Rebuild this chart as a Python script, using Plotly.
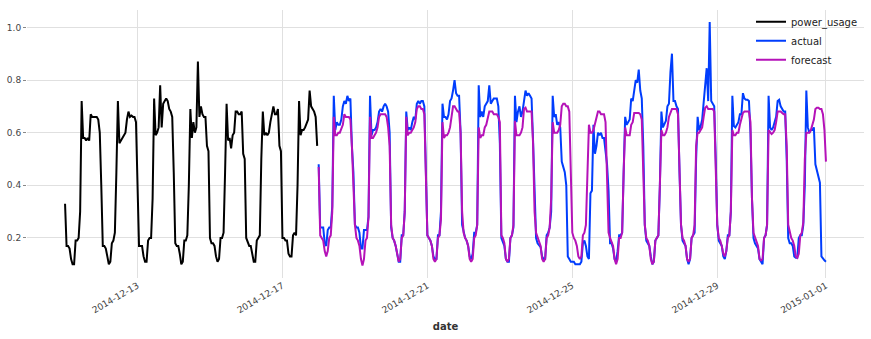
import pandas as pd
import plotly.graph_objects as go

# ---------------- data (hourly) ----------------
POWER_START = "2014-12-11 00:00"
FORECAST_START = "2014-12-18 00:00"

POWER_USAGE = [
    # Dec 11
    0.33, 0.17, 0.17, 0.16, 0.12, 0.10, 0.10, 0.19, 0.19, 0.20, 0.30, 0.72,
    0.58, 0.58, 0.57, 0.58, 0.57, 0.67, 0.66, 0.66, 0.66, 0.66, 0.65, 0.60,
    # Dec 12
    0.40, 0.17, 0.17, 0.16, 0.13, 0.10, 0.11, 0.18, 0.19, 0.22, 0.45, 0.72,
    0.56, 0.57, 0.58, 0.59, 0.60, 0.65, 0.68, 0.66, 0.665, 0.66, 0.66, 0.64,
    # Dec 13
    0.40, 0.17, 0.17, 0.17, 0.13, 0.11, 0.11, 0.19, 0.20, 0.20, 0.35, 0.73,
    0.59, 0.60, 0.62, 0.78, 0.62, 0.71, 0.72, 0.73, 0.72, 0.69, 0.68, 0.66,
    # Dec 14
    0.45, 0.18, 0.17, 0.17, 0.14, 0.10, 0.11, 0.19, 0.19, 0.21, 0.40, 0.69,
    0.58, 0.64, 0.60, 0.62, 0.87, 0.66, 0.70, 0.67, 0.66, 0.66, 0.55, 0.53,
    # Dec 15
    0.20, 0.18, 0.18, 0.17, 0.13, 0.11, 0.12, 0.20, 0.20, 0.22, 0.45, 0.71,
    0.57, 0.58, 0.54, 0.59, 0.60, 0.68, 0.68, 0.67, 0.67, 0.68, 0.52, 0.50,
    # Dec 16
    0.20, 0.18, 0.17, 0.17, 0.14, 0.11, 0.11, 0.19, 0.20, 0.21, 0.50, 0.68,
    0.59, 0.60, 0.59, 0.60, 0.64, 0.68, 0.70, 0.67, 0.67, 0.69, 0.55, 0.53,
    # Dec 17
    0.20, 0.20, 0.19, 0.19, 0.14, 0.13, 0.13, 0.21, 0.22, 0.21, 0.40, 0.72,
    0.59, 0.61, 0.61, 0.62, 0.64, 0.65, 0.76, 0.70, 0.69, 0.68, 0.66, 0.55,
]

ACTUAL = [
    # Dec 18
    0.48, 0.24, 0.24, 0.24, 0.18, 0.17, 0.23, 0.24, 0.24, 0.32, 0.74, 0.61,
    0.64, 0.63, 0.63, 0.65, 0.70, 0.72, 0.71, 0.74, 0.72, 0.73, 0.55, 0.45,
    # Dec 19
    0.25, 0.24, 0.24, 0.22, 0.16, 0.16, 0.23, 0.23, 0.23, 0.28, 0.74, 0.59,
    0.61, 0.61, 0.62, 0.64, 0.68, 0.69, 0.68, 0.70, 0.71, 0.70, 0.68, 0.60,
    # Dec 20
    0.24, 0.20, 0.19, 0.17, 0.13, 0.11, 0.11, 0.21, 0.21, 0.30, 0.68, 0.61,
    0.62, 0.61, 0.64, 0.66, 0.65, 0.71, 0.72, 0.71, 0.72, 0.72, 0.70, 0.45,
    # Dec 21
    0.21, 0.20, 0.19, 0.17, 0.13, 0.12, 0.12, 0.21, 0.21, 0.30, 0.71, 0.66,
    0.66, 0.65, 0.67, 0.72, 0.73, 0.76, 0.80, 0.75, 0.74, 0.74, 0.60, 0.25,
    # Dec 22
    0.22, 0.20, 0.19, 0.17, 0.13, 0.12, 0.14, 0.22, 0.22, 0.25, 0.78, 0.66,
    0.68, 0.66, 0.70, 0.71, 0.72, 0.78, 0.71, 0.72, 0.73, 0.73, 0.73, 0.70,
    # Dec 23
    0.56, 0.20, 0.18, 0.17, 0.12, 0.11, 0.11, 0.20, 0.21, 0.24, 0.74, 0.64,
    0.68, 0.70, 0.66, 0.68, 0.72, 0.76, 0.74, 0.75, 0.74, 0.73, 0.57, 0.40,
    # Dec 24
    0.20, 0.18, 0.17, 0.165, 0.13, 0.12, 0.12, 0.21, 0.22, 0.24, 0.30, 0.74,
    0.66, 0.67, 0.63, 0.64, 0.62, 0.49, 0.47, 0.45, 0.40, 0.13, 0.12, 0.11,
    # Dec 25
    0.11, 0.11, 0.10, 0.10, 0.10, 0.10, 0.11, 0.18, 0.19, 0.17, 0.13, 0.12,
    0.37, 0.38, 0.63, 0.52, 0.55, 0.60, 0.59, 0.60, 0.58, 0.58, 0.53, 0.48,
    # Dec 26
    0.38, 0.18, 0.18, 0.16, 0.12, 0.11, 0.15, 0.21, 0.21, 0.22, 0.45, 0.66,
    0.63, 0.64, 0.65, 0.73, 0.72, 0.76, 0.80, 0.79, 0.84, 0.76, 0.73, 0.55,
    # Dec 27
    0.25, 0.19, 0.18, 0.17, 0.13, 0.10, 0.11, 0.19, 0.20, 0.21, 0.40, 0.68,
    0.62, 0.63, 0.645, 0.70, 0.71, 0.83, 0.90, 0.72, 0.72, 0.70, 0.69, 0.45,
    # Dec 28
    0.25, 0.19, 0.18, 0.17, 0.12, 0.10, 0.12, 0.20, 0.21, 0.22, 0.50, 0.66,
    0.61, 0.625, 0.65, 0.72, 0.77, 0.845, 0.72, 1.02, 0.72, 0.71, 0.70, 0.50,
    # Dec 29
    0.25, 0.19, 0.18, 0.17, 0.13, 0.12, 0.15, 0.21, 0.21, 0.30, 0.74, 0.625,
    0.62, 0.63, 0.64, 0.67, 0.67, 0.75, 0.73, 0.725, 0.725, 0.72, 0.60, 0.35,
    # Dec 30
    0.20, 0.18, 0.17, 0.16, 0.12, 0.11, 0.10, 0.20, 0.21, 0.25, 0.74, 0.62,
    0.61, 0.62, 0.64, 0.66, 0.72, 0.725, 0.70, 0.69, 0.68, 0.68, 0.50, 0.20,
    # Dec 31
    0.18, 0.18, 0.17, 0.13, 0.125, 0.125, 0.20, 0.21, 0.21, 0.25, 0.40, 0.76,
    0.62, 0.60, 0.61, 0.61, 0.62, 0.48, 0.46, 0.44, 0.41, 0.13, 0.12, 0.115,
    # Jan 1 00:00
    0.11,
]

FORECAST = [
    # Dec 18
    0.47, 0.21, 0.20, 0.19, 0.15, 0.13, 0.15, 0.20, 0.21, 0.30, 0.66, 0.59,
    0.59, 0.60, 0.60, 0.62, 0.63, 0.67, 0.66, 0.66, 0.66, 0.65, 0.55, 0.40,
    # Dec 19
    0.25, 0.20, 0.19, 0.17, 0.12, 0.095, 0.12, 0.19, 0.20, 0.28, 0.66, 0.58,
    0.58, 0.59, 0.60, 0.62, 0.66, 0.67, 0.67, 0.67, 0.67, 0.66, 0.62, 0.55,
    # Dec 20
    0.25, 0.20, 0.19, 0.17, 0.13, 0.11, 0.12, 0.20, 0.21, 0.30, 0.66, 0.59,
    0.60, 0.60, 0.61, 0.62, 0.64, 0.69, 0.70, 0.70, 0.69, 0.69, 0.67, 0.40,
    # Dec 21
    0.21, 0.20, 0.19, 0.17, 0.12, 0.11, 0.12, 0.20, 0.21, 0.27, 0.64, 0.58,
    0.59, 0.59, 0.60, 0.62, 0.66, 0.70, 0.70, 0.69, 0.68, 0.68, 0.60, 0.30,
    # Dec 22
    0.22, 0.20, 0.19, 0.17, 0.12, 0.11, 0.12, 0.20, 0.21, 0.25, 0.62, 0.58,
    0.59, 0.59, 0.62, 0.63, 0.66, 0.68, 0.68, 0.68, 0.67, 0.67, 0.67, 0.66,
    # Dec 23
    0.64, 0.21, 0.20, 0.18, 0.12, 0.11, 0.12, 0.20, 0.21, 0.25, 0.645, 0.59,
    0.59, 0.59, 0.60, 0.62, 0.69, 0.695, 0.68, 0.68, 0.68, 0.68, 0.56, 0.30,
    # Dec 24
    0.22, 0.20, 0.19, 0.17, 0.12, 0.11, 0.12, 0.20, 0.21, 0.24, 0.35, 0.64,
    0.60, 0.60, 0.60, 0.61, 0.63, 0.70, 0.71, 0.71, 0.70, 0.70, 0.68, 0.45,
    # Dec 25
    0.22, 0.20, 0.19, 0.17, 0.13, 0.12, 0.13, 0.21, 0.22, 0.25, 0.50, 0.63,
    0.60, 0.60, 0.61, 0.63, 0.66, 0.68, 0.68, 0.67, 0.67, 0.67, 0.64, 0.45,
    # Dec 26
    0.22, 0.20, 0.18, 0.17, 0.12, 0.10, 0.12, 0.20, 0.20, 0.22, 0.45, 0.62,
    0.59, 0.59, 0.59, 0.63, 0.64, 0.675, 0.675, 0.675, 0.675, 0.67, 0.65, 0.45,
    # Dec 27
    0.25, 0.20, 0.19, 0.17, 0.12, 0.10, 0.11, 0.19, 0.20, 0.21, 0.40, 0.61,
    0.59, 0.59, 0.60, 0.62, 0.66, 0.68, 0.69, 0.69, 0.69, 0.69, 0.67, 0.45,
    # Dec 28
    0.25, 0.20, 0.19, 0.17, 0.12, 0.11, 0.12, 0.20, 0.21, 0.25, 0.55, 0.60,
    0.60, 0.61, 0.62, 0.66, 0.695, 0.70, 0.69, 0.69, 0.69, 0.69, 0.68, 0.50,
    # Dec 29
    0.25, 0.20, 0.19, 0.17, 0.14, 0.13, 0.15, 0.20, 0.21, 0.30, 0.61, 0.59,
    0.59, 0.60, 0.60, 0.63, 0.66, 0.675, 0.68, 0.68, 0.68, 0.68, 0.64, 0.35,
    # Dec 30
    0.22, 0.20, 0.19, 0.17, 0.12, 0.115, 0.12, 0.20, 0.21, 0.25, 0.61, 0.60,
    0.595, 0.60, 0.61, 0.64, 0.68, 0.68, 0.68, 0.675, 0.67, 0.67, 0.55, 0.25,
    # Dec 31
    0.22, 0.20, 0.19, 0.17, 0.13, 0.125, 0.14, 0.21, 0.22, 0.26, 0.50, 0.60,
    0.60, 0.60, 0.61, 0.63, 0.65, 0.69, 0.695, 0.695, 0.69, 0.69, 0.67, 0.61,
    # Jan 1 00:00
    0.49,
]

SERIES_NAMES = ["power_usage", "actual", "forecast"]
SERIES_COLORS = ["#000000", "#003DFD", "#B512B8"]

X_TICKS = ["2014-12-13", "2014-12-17", "2014-12-21", "2014-12-25", "2014-12-29", "2015-01-01"]
Y_TICKS = [0.2, 0.4, 0.6, 0.8, 1.0]
X_RANGE = ["2014-12-09 22:48", "2015-01-02 01:12"]
Y_RANGE = [0.048, 1.066]

# ---------------- figure ----------------
power_idx = pd.date_range(POWER_START, periods=len(POWER_USAGE), freq="h")
fc_idx = pd.date_range(FORECAST_START, periods=len(ACTUAL), freq="h")

fig = go.Figure()
for name, color, x, y in zip(
    SERIES_NAMES, SERIES_COLORS,
    [power_idx, fc_idx, fc_idx],
    [POWER_USAGE, ACTUAL, FORECAST],
):
    fig.add_trace(go.Scatter(x=x, y=y, mode="lines", name=name,
                             line=dict(color=color, width=2)))

font_family = "DejaVu Sans"
fig.update_layout(
    width=871, height=339,
    margin=dict(l=27, r=7, t=7, b=61),
    paper_bgcolor="white", plot_bgcolor="white",
    font=dict(family=font_family, size=9, color="#444444"),
    showlegend=True,
    legend=dict(x=0.865, y=1.01, xanchor="left", yanchor="top",
                bgcolor="rgba(255,255,255,0)",
                font=dict(size=10, color="#222222", family=font_family)),
)
fig.update_xaxes(
    type="date", range=X_RANGE, tickvals=X_TICKS, tickformat="%Y-%m-%d",
    tickangle=-30, showgrid=True, gridcolor="#e0e0e0", gridwidth=1,
    zeroline=False, showline=False, ticks="", automargin=False,
    title=dict(text="<b>date</b>", font=dict(size=10, color="#333333"), standoff=8),
)
fig.update_yaxes(
    range=Y_RANGE, tickvals=Y_TICKS, tickformat=".1f",
    showgrid=True, gridcolor="#e0e0e0", gridwidth=1,
    zeroline=False, showline=False, ticks="outside", ticklen=3,
    tickcolor="#888888", automargin=False,
)

fig.write_html("out.html")
